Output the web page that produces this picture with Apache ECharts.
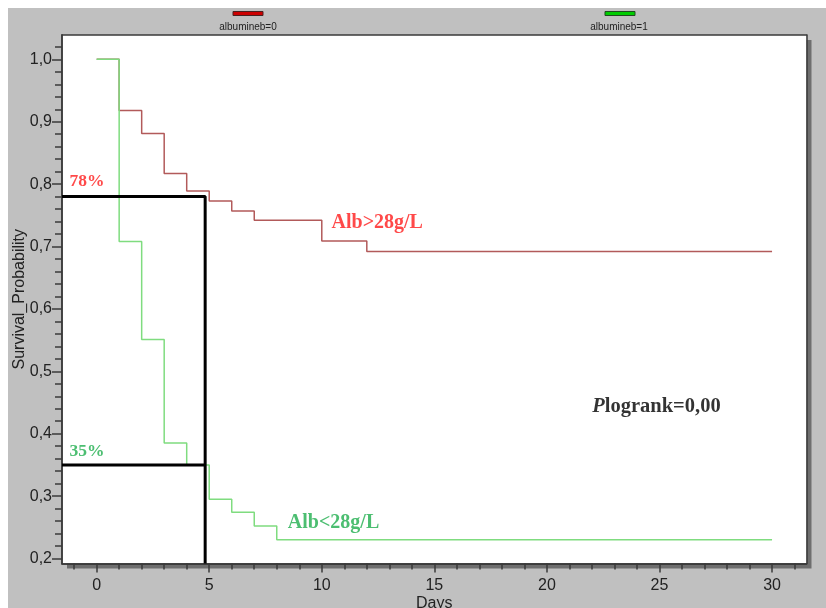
<!DOCTYPE html>
<html>
<head>
<meta charset="utf-8">
<script src="https://cdn.jsdelivr.net/npm/echarts@6.0.0/dist/echarts.min.js"></script>
<style>
  html, body { margin: 0; padding: 0; background: #ffffff; }
  #wrap { position: relative; width: 826px; height: 608px; overflow: hidden; }
  #panel { position: absolute; left: 8px; top: 8px; right: 0; bottom: 0; background: #c0c0c0; }
  #chart { position: absolute; left: 0; top: 0; width: 826px; height: 608px; }
</style>
</head>
<body>
<div id="wrap"><div id="panel"></div><div id="chart"></div></div>
<script>
// Kaplan-Meier survival by albumin group (step functions, day -> survival)
const groupNames = ['albumineb=0', 'albumineb=1'];
const daysHigh = [0, 1, 2, 3, 4, 5, 6, 7, 10, 12, 30];
const survHigh = [1.0, 0.918, 0.881, 0.817, 0.789, 0.773, 0.757, 0.742, 0.709, 0.692, 0.692];
const daysLow = [0, 1, 2, 3, 4, 5, 6, 7, 8, 30];
const survLow = [1.0, 0.708, 0.551, 0.385, 0.35, 0.295, 0.274, 0.252, 0.23, 0.23];

// Reference cut at day ~5 with the survival of each group
const refDay = 4.82;
const refPercents = [78, 35];

// Axis tick labels
const xTickLabels = [0, 5, 10, 15, 20, 25, 30];
const yTickLabels = [0.2, 0.3, 0.4, 0.5, 0.6, 0.7, 0.8, 0.9, 1.0];

const X_MIN = -1.539, X_MAX = 31.53;
const Y_MIN = 0.192, Y_MAX = 1.039;

const xMinor = [];
for (let d = -1; d <= 31; d++) xMinor.push(d);
const yMinor = [];
for (let k = 10; k <= 51; k++) yMinor.push(+(k * 0.02).toFixed(2));

const zip = (xs, ys) => xs.map((x, i) => [x, ys[i]]);

const RED = '#b25a5a';
const GREEN = '#7fdc7f';
const TXT_RED = '#ff1c1c';
const TXT_GREEN = '#1fae4e';
const AXIS = '#3a3a3a';
const SERIF = '"Liberation Serif", "Times New Roman", serif';
const SANS = '"Liberation Sans", Arial, sans-serif';

// Text annotations anchored in data coordinates (left edge, vertical middle)
const notes = [
  { text: refPercents[0] + '%', at: [-1.23, 0.805], color: TXT_RED, size: 17.5 },
  { text: refPercents[1] + '%', at: [-1.23, 0.371], color: TXT_GREEN, size: 17.5 },
  { text: 'Alb>28g/L', at: [10.41, 0.738], color: TXT_RED, size: 20 },
  { text: 'Alb<28g/L', at: [8.47, 0.257], color: TXT_GREEN, size: 20 }
];

const chart = echarts.init(document.getElementById('chart'), null, { renderer: 'canvas' });

const gridBox = { left: 62, right: 19.5, top: 35, bottom: 44.5 };

function valueAxisX(extra) {
  return Object.assign({
    type: 'value', min: X_MIN, max: X_MAX, position: 'bottom',
    splitLine: { show: false },
    axisLine: { show: true, onZero: false, lineStyle: { color: AXIS, width: 1.5 } }
  }, extra);
}
function valueAxisY(extra) {
  return Object.assign({
    type: 'value', min: Y_MIN, max: Y_MAX, position: 'left',
    splitLine: { show: false },
    axisLine: { show: true, onZero: false, lineStyle: { color: AXIS, width: 1.5 } }
  }, extra);
}

const option = {
  backgroundColor: 'transparent',
  animation: false,
  grid: Object.assign({
    show: true, backgroundColor: '#ffffff', borderWidth: 0, borderColor: 'transparent',
    shadowColor: '#6e6e6e', shadowBlur: 0, shadowOffsetX: 5, shadowOffsetY: 5,
    outerBoundsMode: 'none', containLabel: false
  }, gridBox),
  xAxis: [
    valueAxisX({
      name: 'Days', nameLocation: 'middle', nameGap: 32, nameMoveOverlap: false,
      nameTextStyle: { fontFamily: SANS, fontSize: 16, color: '#222' },
      axisTick: { show: true, inside: false, length: 9, customValues: xTickLabels, lineStyle: { color: AXIS, width: 1.5 } },
      axisLabel: { show: true, margin: 14, customValues: xTickLabels, fontFamily: SANS, fontSize: 16, color: '#222' }
    }),
    valueAxisX({
      axisTick: { show: true, inside: false, length: 6, customValues: xMinor, lineStyle: { color: AXIS, width: 1.5 } },
      axisLabel: { show: false }
    }),
    valueAxisX({
      position: 'top', axisTick: { show: false }, axisLabel: { show: false }
    })
  ],
  yAxis: [
    valueAxisY({
      name: 'Survival_Probability', nameLocation: 'middle', nameGap: 34, nameRotate: 90, nameMoveOverlap: false,
      nameTextStyle: { fontFamily: SANS, fontSize: 16, color: '#222' },
      axisTick: { show: true, inside: false, length: 10, customValues: yTickLabels, lineStyle: { color: AXIS, width: 1.5 } },
      axisLabel: {
        show: true, margin: 10, customValues: yTickLabels, fontFamily: SANS, fontSize: 16, color: '#222',
        formatter: v => v.toFixed(1).replace('.', ',')
      }
    }),
    valueAxisY({
      axisTick: { show: true, inside: false, length: 7, customValues: yMinor, lineStyle: { color: AXIS, width: 1.5 } },
      axisLabel: { show: false }
    }),
    valueAxisY({
      position: 'right', axisTick: { show: false }, axisLabel: { show: false }
    })
  ],
  graphic: [
    { type: 'rect', shape: { x: 233, y: 11.5, width: 30, height: 4 }, style: { fill: '#cc0000', stroke: '#4a2020', lineWidth: 1 } },
    { type: 'text', x: 248, y: 27, style: { text: groupNames[0], fill: '#222', font: '10px ' + SANS, textAlign: 'center', textVerticalAlign: 'middle' } },
    { type: 'rect', shape: { x: 605, y: 11.5, width: 30, height: 4 }, style: { fill: '#00cc00', stroke: '#204a20', lineWidth: 1 } },
    { type: 'text', x: 619, y: 27, style: { text: groupNames[1], fill: '#222', font: '10px ' + SANS, textAlign: 'center', textVerticalAlign: 'middle' } }
  ],
  series: [
    {
      name: groupNames[0], type: 'line', step: 'end', symbol: 'none', z: 3,
      data: zip(daysHigh, survHigh), lineStyle: { color: RED, width: 1.5 }
    },
    {
      name: groupNames[1], type: 'line', step: 'end', symbol: 'none', z: 4,
      data: zip(daysLow, survLow), lineStyle: { color: GREEN, width: 1.5 }
    },
    {
      name: 'ref-high', type: 'line', symbol: 'none', z: 5, silent: true,
      data: [[X_MIN, refPercents[0] / 100], [refDay, refPercents[0] / 100], [refDay, Y_MIN]],
      lineStyle: { color: '#000', width: 3 }
    },
    {
      name: 'ref-low', type: 'line', symbol: 'none', z: 5, silent: true,
      data: [[X_MIN, refPercents[1] / 100], [refDay, refPercents[1] / 100]],
      lineStyle: { color: '#000', width: 3 }
    },
    {
      name: 'notes', type: 'scatter', symbolSize: 1, z: 6, silent: true,
      itemStyle: { color: 'rgba(0,0,0,0)' },
      data: notes.map(n => ({
        value: n.at,
        label: {
          show: true, position: 'right', distance: 0, formatter: n.text,
          fontFamily: SERIF, fontWeight: 'bold', fontSize: n.size, color: n.color
        }
      }))
    },
    {
      name: 'logrank', type: 'scatter', symbolSize: 1, z: 6, silent: true,
      itemStyle: { color: 'rgba(0,0,0,0)' },
      data: [{
        value: [21.99, 0.443],
        label: {
          show: true, position: 'right', distance: 0,
          formatter: '{i|P}{b|logrank=0,00}',
          rich: {
            i: { fontFamily: SERIF, fontStyle: 'italic', fontWeight: 'bold', fontSize: 20.5, color: '#000' },
            b: { fontFamily: SERIF, fontWeight: 'bold', fontSize: 20.5, color: '#000' }
          }
        }
      }]
    }
  ]
};

chart.setOption(option);
</script>
</body>
</html>
